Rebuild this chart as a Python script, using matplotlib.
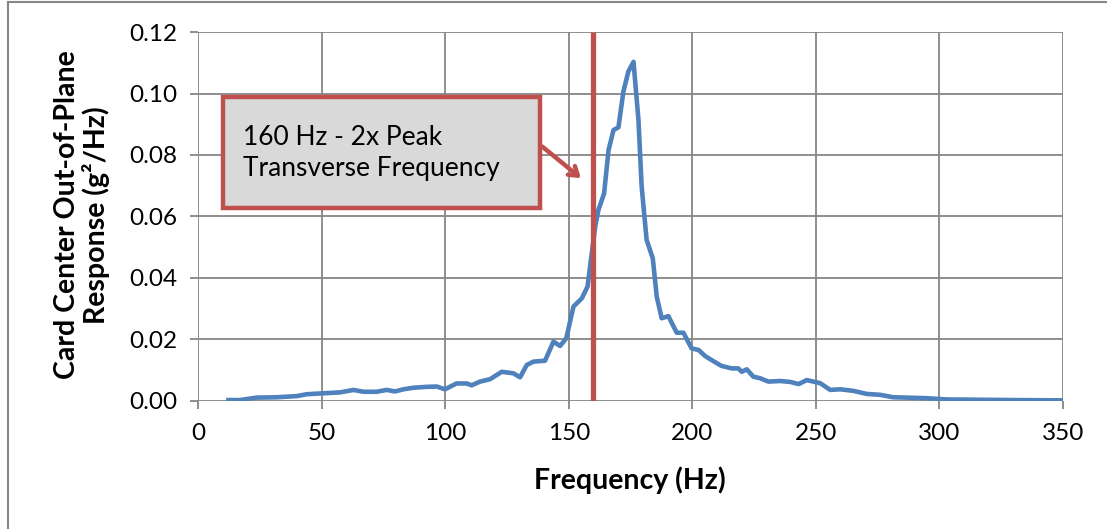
import numpy as np
import matplotlib
matplotlib.use("Agg")
import matplotlib.pyplot as plt
from matplotlib.patches import Rectangle
from matplotlib.lines import Line2D

plt.rcParams['font.family'] = ['Lato', 'DejaVu Sans']

# donnees
freq = [12.3, 17.0, 23.7, 31.8, 40.0, 44.0, 50.7, 57.5, 62.9, 66.9, 72.3, 76.3,
        79.7, 83.1, 87.1, 92.5, 96.6, 99.9, 104.6, 108.7, 110.7, 114.1, 118.2,
        122.9, 127.6, 130.3, 133.0, 135.7, 140.4, 143.8, 146.5, 149.0, 151.9,
        155.3, 157.6, 159.3, 160.7, 162.0, 164.3, 166.1, 168.1, 170.1, 172.1,
        174.1, 176.2, 178.2, 179.5, 181.5, 184.0, 185.6, 187.6, 190.3, 193.7,
        196.4, 199.7, 202.5, 205.2, 207.8, 211.8, 215.9, 218.6, 220.0, 222.0,
        224.7, 227.4, 230.8, 235.5, 239.6, 243.0, 246.3, 251.7, 255.8, 259.8,
        265.1, 270.5, 276.0, 281.3, 286.7, 294.8, 302.9, 316.5, 330.0, 350.0]
response = [0.0003, 0.0003, 0.0011, 0.0012, 0.0016, 0.0022, 0.0025, 0.0028, 0.0036,
            0.0030, 0.0030, 0.0036, 0.0031, 0.0038, 0.0043, 0.0046, 0.0047, 0.0038,
            0.0057, 0.0057, 0.0051, 0.0063, 0.0071, 0.0095, 0.0090, 0.0077, 0.0117,
            0.0128, 0.0131, 0.0193, 0.0179, 0.0204, 0.0307, 0.0334, 0.0372, 0.0480,
            0.0567, 0.0621, 0.0675, 0.0816, 0.0881, 0.0890, 0.1006, 0.1071, 0.1103,
            0.0914, 0.0697, 0.0524, 0.0464, 0.0339, 0.0269, 0.0276, 0.0222, 0.0222,
            0.0171, 0.0166, 0.0146, 0.0133, 0.0114, 0.0106, 0.0106, 0.0095, 0.0103,
            0.0079, 0.0074, 0.0063, 0.0065, 0.0062, 0.0055, 0.0068, 0.0058, 0.0036,
            0.0038, 0.0033, 0.0023, 0.0020, 0.0012, 0.0011, 0.0009, 0.0005, 0.0004,
            0.0003, 0.0002]

marker_freq = 160
x_ticks = [0, 50, 100, 150, 200, 250, 300, 350]
y_ticks = [0.00, 0.02, 0.04, 0.06, 0.08, 0.10, 0.12]
note = "160 Hz - 2x Peak\nTransverse Frequency"

blue = "#4F81BD"
red = "#C0504D"
grid_col = "#868686"

fig = plt.figure(figsize=(11.07, 5.29), dpi=100)
ax = fig.add_axes([0.1789, 0.2420, 0.7814, 0.6975])

ax.plot(freq, response, color=blue, lw=3.3, solid_joinstyle='round', zorder=3)
ax.vlines(marker_freq, 0, 0.12, color=red, lw=3.8, zorder=4)

ax.set_xlim(0, 350)
ax.set_ylim(0, 0.12)
ax.set_xticks(x_ticks)
ax.set_yticks(y_ticks)
ax.set_yticklabels([f"{v:.2f}" for v in y_ticks])
ax.grid(True, color=grid_col, lw=1.3)
ax.set_axisbelow(True)
for s in ax.spines.values():
    s.set_visible(False)
ax.tick_params(axis='both', length=6, width=1.3, color=grid_col, labelsize=17.5)
ax.tick_params(axis='y', pad=9)
ax.tick_params(axis='x', pad=10)

ax.set_xlabel("Frequency (Hz)", fontsize=20.5, fontweight='bold', va='center')
ax.xaxis.set_label_coords(0.4995, -0.214)
ax.set_ylabel("Card Center Out-of-Plane\nResponse (g²/Hz)", fontsize=20.5,
              fontweight='bold', linespacing=1.1, va='center')
ax.yaxis.set_label_coords(-0.134, 0.504)

# encadre de l'annotation
box = Rectangle((10.1, 0.0628), 128.3, 0.0361, facecolor="#D9D9D9", edgecolor=red,
                lw=3.2, zorder=5, clip_on=False)
ax.add_patch(box)
ax.text(18.0, 0.0808, note, fontsize=19, va='center', ha='left', zorder=6, linespacing=1.3)
ax.annotate("", xy=(155.8, 0.0719), xytext=(138.4, 0.0833), zorder=6,
            arrowprops=dict(arrowstyle='->,head_length=0.6,head_width=0.4', color=red, lw=3.2))

# cadre de la figure
fig.add_artist(Line2D([8 / 1107, 8 / 1107], [0, 1 - 2 / 529], color=grid_col, lw=1.5))
fig.add_artist(Line2D([8 / 1107, 1], [1 - 2 / 529, 1 - 2 / 529], color=grid_col, lw=1.5))

fig.savefig("out.png", dpi=100)
